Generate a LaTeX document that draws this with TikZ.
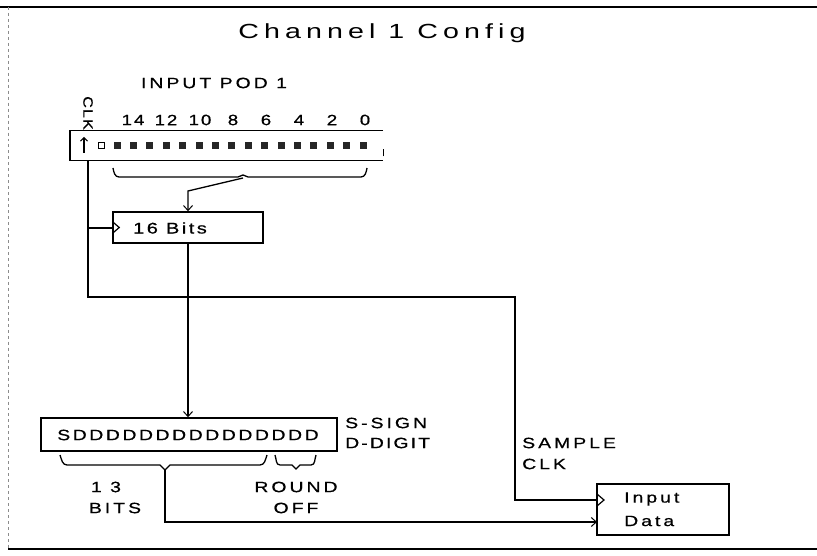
\documentclass[tikz,border=0pt]{standalone}
\usepackage{fontspec}
\setmainfont{Liberation Sans}
\usetikzlibrary{arrows.meta}
\newcommand\plfont[3]{\fontsize{#1}{#1}\selectfont\addfontfeature{FakeStretch=#2,LetterSpace=#3,FakeBold=0.6}}
\newcommand\plthin[3]{\fontsize{#1}{#1}\selectfont\addfontfeature{FakeStretch=#2,LetterSpace=#3}}
\begin{document}
\begin{tikzpicture}[x=1bp,y=-1bp,
  box/.style={draw, line width=1.5bp, inner sep=0pt},
  wire/.style={line width=1.3bp},
  arr/.style={-{Straight Barb[length=5bp,width=9bp,line width=1bp]}},
  lbl/.style={inner sep=0pt, font=\plfont{15}{1.3}{20}},
  numlbl/.style={inner sep=0pt, font=\plfont{15}{1.25}{13}},
  sq/.style={fill=black!85, minimum size=7bp, inner sep=0pt},
  clktri/.style={line width=1.2bp},
]
\useasboundingbox (0,0) rectangle (817,556);
% frame
\draw[line width=1.5bp] (0,7) -- (817,7);
\draw[line width=1.5bp] (8,549) -- (817,549);
\draw[black!45, dashed, line width=0.6bp] (8,7) -- (8,549);
% title
\node[inner sep=0pt, font=\plthin{20.5}{1.4}{25}] (title) at (382,33) {Channel 1 Config};
% input pod
\node[inner sep=0pt, font=\plfont{15}{1.3}{20}] (podlabel) at (214,83) {INPUT POD 1};
\node[numlbl] (n14) at (133,120) {14};
\node[numlbl] (n12) at (166,120) {12};
\node[numlbl] (n10) at (200,120) {10};
\node[numlbl] (n8) at (233,120) {8};
\node[numlbl] (n6) at (266,120) {6};
\node[numlbl] (n4) at (299,120) {4};
\node[numlbl] (n2) at (332,120) {2};
\node[numlbl] (n0) at (365,120) {0};
\node[inner sep=0pt, rotate=-90, font=\plfont{13.5}{1.2}{8}] (clklabel) at (88,113) {CLK};
\node[inner sep=0pt, minimum width=313bp, minimum height=30bp] (pod) at (226.5,145.5) {};
\draw[line width=1.5bp] (pod.north east) -- (pod.north west) -- (pod.south west) -- (pod.south east);
\draw[line width=1.2bp] ([yshift=-11bp]pod.east) -- ([yshift=-4bp]pod.east);
\coordinate (uparrowbot) at (84,153);
\coordinate (uparrowtop) at (84,137);
\draw[line width=1.1bp, -{Straight Barb[length=3.5bp,width=7bp,line width=1bp]}] (uparrowbot) -- (uparrowtop);
\node[draw, line width=1bp, minimum size=6bp, inner sep=0pt] (sqclk) at (101,146) {};
\foreach \i in {0,...,15} {
  \node[sq] (sq\i) at ({117+16.4*\i},146) {};
}
% brace under pod
\coordinate (pbl) at (113,168);
\coordinate (pbr) at (367,168);
\coordinate (pbm) at (243,175);
\draw[wire] (pbl) to[out=-80,in=180] (119,177) -- (238,177) -- (pbm) -- (248,177) -- (361,177) to[out=0,in=-100] (pbr);
\coordinate (pbdiag) at (188,191);
% 16 bits box
\node[box, minimum width=150bp, minimum height=31bp] (bits) at (188,227.5) {};
\node[inner sep=0pt, font=\plfont{15.5}{1.3}{16}] (bitstext) at (170,228) {16 Bits};
\draw[clktri] ([yshift=6bp]bits.west) -- ([xshift=7bp]bits.west) -- ([yshift=-6bp]bits.west);
\draw[wire, arr] (243,178) -- (pbdiag) -- (pbdiag |- bits.north);
% clock wiring
\coordinate (clkstart) at (88,161);
\coordinate (clkcorner1) at (88,297);
\coordinate (clkcorner2) at (515,297);
\coordinate (clkbranch) at (88,228);
% SDDD box
\node[box, minimum width=296bp, minimum height=33bp] (reg) at (189,434.5) {};
\node[inner sep=0pt, font=\plfont{15}{1.3}{17}] (regtext) at (188,435) {SDDDDDDDDDDDDDDD};
\node[lbl, anchor=west] (ssign) at (345,423) {S-SIGN};
\node[lbl, anchor=west, font=\plfont{15}{1.3}{14}] (ddigit) at (345,443) {D-DIGIT};
\draw[wire, arr] (bits.south -| pbdiag) -- (pbdiag |- reg.north);
% braces under register
\coordinate (rbl) at (60,455);
\coordinate (rbr) at (267,455);
\coordinate (rbm) at (165,470);
\draw[wire] (rbl) to[out=-70,in=180] (67,465) -- (160,465) -- (rbm) -- (170,465) -- (260,465) to[out=0,in=-110] (rbr);
\coordinate (sbl) at (275,455);
\coordinate (sbr) at (316,455);
\draw[wire] (sbl) to[out=-70,in=180] (280,465) -- (292,465) -- (296,469) -- (300,465) -- (311,465) to[out=0,in=-110] (sbr);
\node[lbl] (thirteen) at (106,487) {1 3};
\node[lbl] (bitslbl) at (115,508) {BITS};
\node[lbl] (round) at (296,487) {ROUND};
\node[lbl] (off) at (296,508) {OFF};
% sample clk
\node[lbl, anchor=west] (sample) at (522,443) {SAMPLE};
\node[lbl, anchor=west] (clk2) at (522,464) {CLK};
% input data box
\node[box, minimum width=132bp, minimum height=51bp] (indata) at (663,509.5) {};
\draw[clktri] (597,494) -- (604,500) -- (597,506);
\node[lbl, anchor=west] (inputtxt) at (624,499) {Input};
\node[lbl, anchor=west] (datatxt) at (624,521) {Data};
\coordinate (clkend) at (597,500);
\draw[wire] (clkstart) -- (clkcorner1) -- (clkcorner2) -- (clkcorner2 |- clkend) -- (clkend);
\draw[wire] (clkbranch) -- (bits.west |- clkbranch);
\coordinate (dataend) at (597,522);
\draw[wire, arr] (rbm) -- (rbm |- dataend) -- (dataend);
\end{tikzpicture}
\end{document}
